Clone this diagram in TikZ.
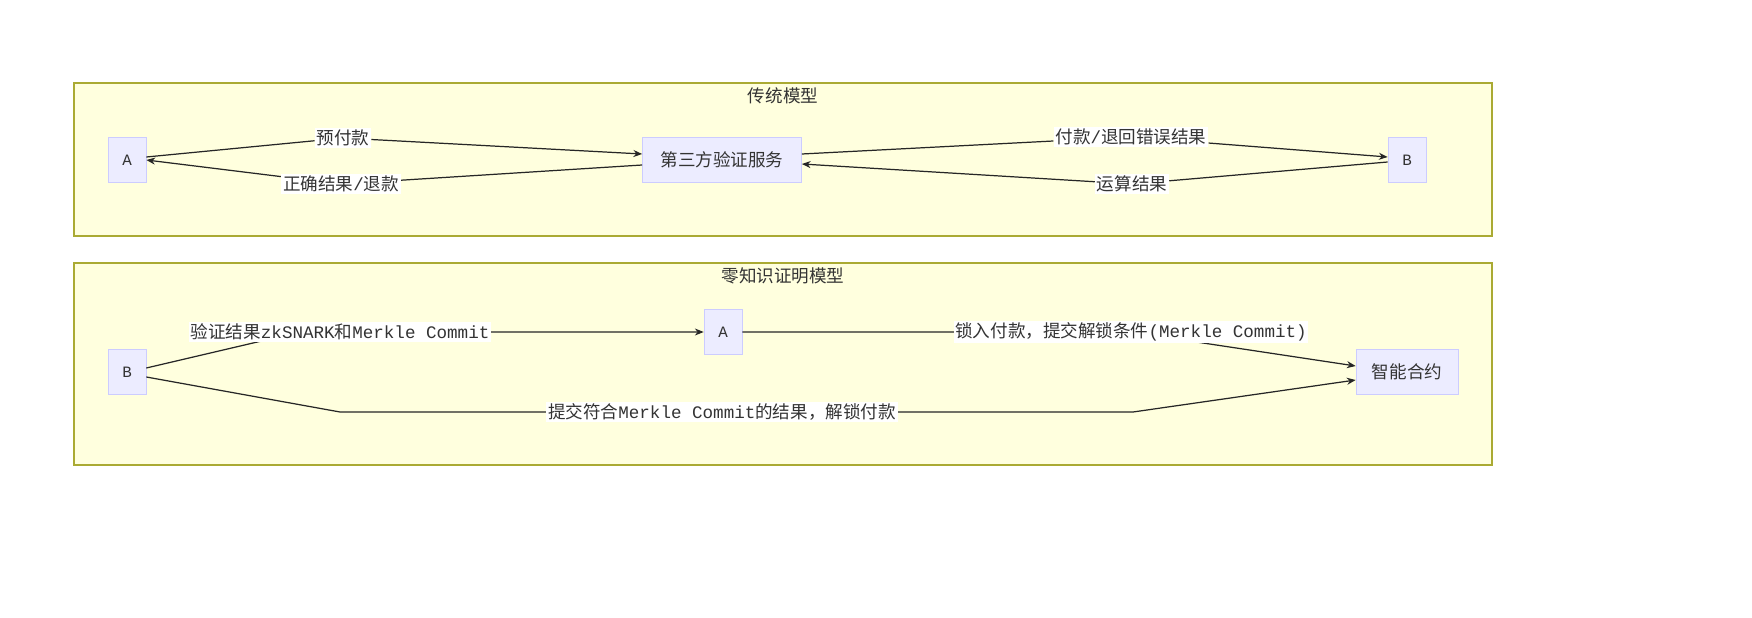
\documentclass[tikz,border=0pt]{standalone}
\usepackage{fontspec}
\setmainfont{Noto Sans CJK SC}
\setmonofont{Liberation Mono}
\usetikzlibrary{arrows.meta,positioning}
\definecolor{clusterFill}{HTML}{FFFFDE}
\definecolor{clusterDraw}{HTML}{AAAA33}
\definecolor{boxFill}{HTML}{ECECFF}
\definecolor{boxDraw}{HTML}{CCCCFF}
\definecolor{txt}{HTML}{333333}
\tikzset{
    cluster/.style={draw=clusterDraw, fill=clusterFill, line width=0.8pt},
    actor/.style={draw=boxDraw, fill=boxFill, rectangle, minimum height=0.9cm,
        minimum width=0.76cm, inner sep=2pt, font=\ttfamily\fontsize{9}{11}\selectfont, text=txt},
    svc/.style={actor, font=\rmfamily\fontsize{10}{12}\selectfont},
    title/.style={font=\fontsize{10}{12}\selectfont, text=txt},
    lbl/.style={fill=white, inner sep=1pt, font=\fontsize{10}{12}\selectfont, text=txt},
    arrow/.style={-{Stealth[length=5pt,width=4pt]}, line width=0.7pt, color=black!85}
}
\newcommand{\mn}[1]{{\ttfamily #1}}
\begin{document}
\begin{tikzpicture}[x=0.02cm, y=-0.02cm]
    % Traditional model
    \draw[cluster] (74,83) rectangle (1492,236);
    \node[title] (t1) at (783,96) {传统模型};
    \node[actor] (a1) at (127,160) {A};
    \node[svc, minimum width=3.18cm] (tp) at (722,160) {第三方验证服务};
    \node[actor] (b1) at (1407,160) {B};
    \node[lbl] (l1) at (343,138) {预付款};
    \node[lbl] (l2) at (341,184) {正确结果\mn{/}退款};
    \node[lbl] (l3) at (1131,137) {付款\mn{/}退回错误结果};
    \node[lbl] (l4) at (1132,184) {运算结果};
    \draw[arrow] ([yshift=0.06cm]a1.east) -- (l1) -- ([yshift=0.12cm]tp.west);
    \draw[arrow] ([yshift=-0.1cm]tp.west) -- (l2) -- ([yshift=0cm]a1.east);
    \draw[arrow] ([yshift=0.12cm]tp.east) -- (l3) -- ([yshift=0.06cm]b1.west);
    \draw[arrow] ([yshift=-0.04cm]b1.west) -- (l4) -- ([yshift=-0.08cm]tp.east);
    % Zero-knowledge model
    \draw[cluster] (74,263) rectangle (1492,465);
    \node[title] (t2) at (783,276) {零知识证明模型};
    \node[actor] (b2) at (127,372) {B};
    \node[actor] (a2) at (723,332) {A};
    \node[svc, minimum width=2.04cm] (sc) at (1407,372) {智能合约};
    \coordinate (k0) at (300,332);
    \coordinate (k1) at (1130,332);
    \coordinate (k2) at (340,412);
    \coordinate (k3) at (1133,412);
    \draw[arrow] ([yshift=0.08cm]b2.east) -- (k0) -- (a2.west);
    \node[lbl] (l5) at (340,332) {验证结果\mn{zkSNARK}和\mn{Merkle Commit}};
    \draw[arrow] (a2.east) -- (k1) -- ([yshift=0.12cm]sc.west);
    \node[lbl] (l6) at (1131,332) {锁入付款，提交解锁条件\mn{(Merkle Commit)}};
    \draw[arrow] ([yshift=-0.1cm]b2.east) -- (k2) -- (k3) -- ([yshift=-0.16cm]sc.west);
    \node[lbl] (l7) at (722,412) {提交符合\mn{Merkle Commit}的结果，解锁付款};
    \pgfresetboundingbox
    \useasboundingbox (0,0) rectangle (1752,618);
\end{tikzpicture}
\end{document}
